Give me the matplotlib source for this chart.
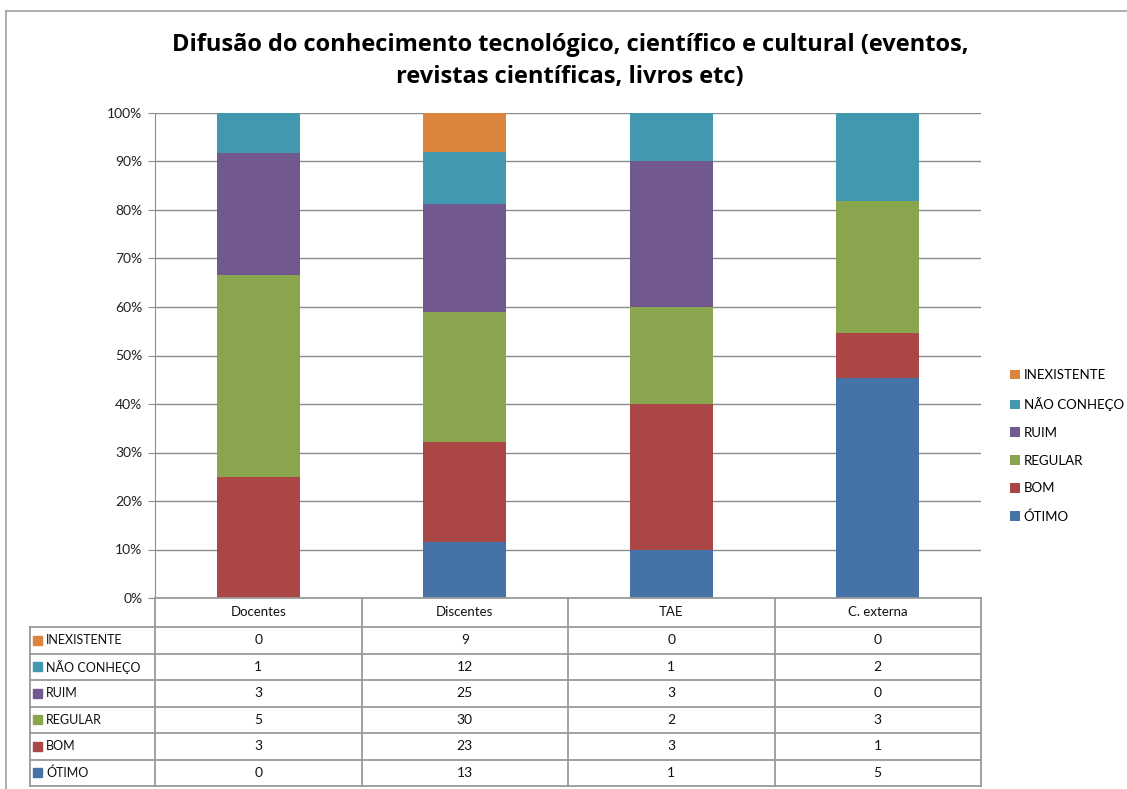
import matplotlib
matplotlib.use("Agg")
import matplotlib.pyplot as plt
import numpy as np
from matplotlib.patches import Rectangle
from matplotlib.lines import Line2D

plt.rcParams['font.family'] = ['Lato', 'DejaVu Sans']

categories = ["Docentes", "Discentes", "TAE", "C. externa"]
series_names = ["ÓTIMO", "BOM", "REGULAR", "RUIM", "NÃO CONHEÇO", "INEXISTENTE"]
otimo = [0, 13, 1, 5]
bom = [3, 23, 3, 1]
regular = [5, 30, 2, 3]
ruim = [3, 25, 3, 0]
nao_conheco = [1, 12, 1, 2]
inexistente = [0, 9, 0, 0]
series_values = [otimo, bom, regular, ruim, nao_conheco, inexistente]
colors = ["#4572A7", "#AA4643", "#89A54E", "#71588F", "#4198AF", "#DB843D"]
yticks = ["0%", "10%", "20%", "30%", "40%", "50%", "60%", "70%", "80%", "90%", "100%"]
title = "Difusão do conhecimento tecnológico, científico e cultural (eventos,\nrevistas científicas, livros etc)"

W, H = 1127, 789
fig = plt.figure(figsize=(W / 100, H / 100), dpi=100)

def fx(x):
    return x / W

def fy(y):
    return 1 - y / H

# outer border
fig.add_artist(Line2D([fx(6), fx(6)], [fy(11), fy(789)], color="#a0a0a0", lw=1.2))
fig.add_artist(Line2D([fx(6), fx(1127)], [fy(11), fy(11)], color="#a0a0a0", lw=1.2))

# plot area
x0, x1, ytop, ybot = 155, 981, 113, 598
ax = fig.add_axes([fx(x0), fy(ybot), fx(x1 - x0), (ybot - ytop) / H])
data = np.array(series_values, dtype=float)
totals = data.sum(axis=0)
pct = data / totals * 100
xpos = np.arange(len(categories))
bottom = np.zeros(len(categories))
for name, vals, c in zip(series_names, pct, colors):
    ax.bar(xpos, vals, bottom=bottom, width=0.4, color=c, label=name, zorder=3)
    bottom += vals
ax.set_xlim(-0.5, len(categories) - 0.5)
ax.set_ylim(0, 100)
ax.set_yticks(np.arange(0, 101, 10))
ax.set_yticklabels(yticks, fontsize=10, color="#222222")
ax.yaxis.grid(True, color="#8c8c8c", lw=1.0, zorder=0)
ax.set_xticks([])
for s in ["top", "right", "bottom"]:
    ax.spines[s].set_visible(False)
ax.spines["left"].set_color("#8c8c8c")
ax.tick_params(axis="y", length=5, color="#8c8c8c", pad=4)

# legend
handles, labels = ax.get_legend_handles_labels()
fig.legend(handles[::-1], labels[::-1], loc="center left",
           bbox_to_anchor=(fx(998), fy(446)), frameon=False, fontsize=9.5,
           handlelength=0.75, handleheight=0.75, labelspacing=1.2,
           handletextpad=0.3)

# title
fig.text(fx(570), fy(61), title, ha="center", va="center", fontsize=17,
         fontweight="bold", linespacing=1.4, family=["Open Sans", "DejaVu Sans"])

# data table
gc = "#9a9a9a"
lw = 1.3
col_edges = np.linspace(x0, x1, len(categories) + 1)
tab_left = 30
header_top, header_bot = 598, 627
row_h = (786 - header_bot) / len(series_names)
row_edges = [header_bot + i * row_h for i in range(len(series_names) + 1)]

def hline(xa, xb, y):
    fig.add_artist(Line2D([fx(xa), fx(xb)], [fy(y), fy(y)], color=gc, lw=lw))

def vline(x, ya, yb):
    fig.add_artist(Line2D([fx(x), fx(x)], [fy(ya), fy(yb)], color=gc, lw=lw))

hline(x0, x1, header_top)
for y in row_edges:
    hline(tab_left, x1, y)
for x in col_edges:
    vline(x, header_top, row_edges[-1])
vline(tab_left, header_bot, row_edges[-1])

for j, cat in enumerate(categories):
    cx = (col_edges[j] + col_edges[j + 1]) / 2
    fig.text(fx(cx), fy((header_top + header_bot) / 2), cat, ha="center",
             va="center", fontsize=9.5, color="#111111")

rows_order = list(range(len(series_names)))[::-1]
for r, si in enumerate(rows_order):
    yc = (row_edges[r] + row_edges[r + 1]) / 2
    fig.add_artist(Rectangle((fx(33), fy(yc + 4.5)), fx(9), 9 / H,
                             color=colors[si], transform=fig.transFigure))
    fig.text(fx(46), fy(yc), series_names[si], ha="left", va="center",
             fontsize=9, color="#111111")
    for j in range(len(categories)):
        cx = (col_edges[j] + col_edges[j + 1]) / 2
        fig.text(fx(cx), fy(yc), str(series_values[si][j]), ha="center",
                 va="center", fontsize=10, color="#111111")

fig.savefig("out.png", dpi=100, facecolor="white")
